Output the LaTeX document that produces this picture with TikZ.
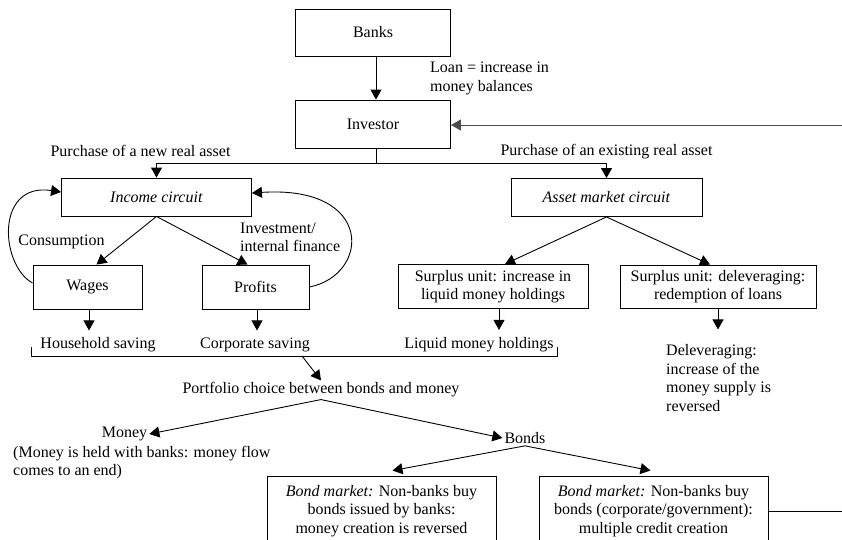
\documentclass[tikz,border=0pt]{standalone}
\usepackage{fontspec}
\setmainfont{Liberation Serif}
\usetikzlibrary{arrows.meta,calc}
\begin{document}
\begin{tikzpicture}[x=1pt,y=-1pt,
  every node/.style={font=\fontsize{16}{18.5}\selectfont},
  box/.style={draw, line width=0.9pt, inner sep=0pt, align=center},
  lbl/.style={inner sep=2pt, align=left},
  arr/.style={line width=0.9pt, -{Triangle[length=10pt,width=11pt]}},
  ln/.style={line width=0.9pt},
  feed/.style={draw=black!70}
]
\useasboundingbox (0,0) rectangle (842,539);

% boxes
\node[box, minimum width=155pt, minimum height=47pt] (banks) at (373,32.5) {Banks};
\node[box, minimum width=155pt, minimum height=48pt] (investor) at (373,124) {Investor};
\node[box, minimum width=190pt, minimum height=38pt] (income) at (156.5,197) {\textit{Income circuit}};
\node[box, minimum width=191pt, minimum height=38pt] (asset) at (606.5,197.5) {\textit{Asset market circuit}};
\node[box, minimum width=109pt, minimum height=44pt] (wages) at (87.5,287) {Wages};
\node[box, minimum width=107pt, minimum height=44pt] (profits) at (255.5,287) {Profits};
\node[box, minimum width=190pt, minimum height=44pt] (surplus1) at (493,286.5) {Surplus unit: increase in\\liquid money holdings};
\node[box, minimum width=196pt, minimum height=43pt] (surplus2) at (718,286.5) {Surplus unit: deleveraging:\\redemption of loans};
\node[box, minimum width=229pt, minimum height=70pt] (bond1) at (381.5,511) {\textit{Bond market:} Non-banks buy\\bonds issued by banks:\\money creation is reversed};
\node[box, minimum width=229pt, minimum height=70pt] (bond2) at (653.5,511) {\textit{Bond market:} Non-banks buy\\bonds (corporate/government):\\multiple credit creation};

% labels
\node[lbl, anchor=west] (loan) at (428,78.5) {Loan = increase in\\money balances};
\node[lbl] (pnew) at (140.5,151) {Purchase of a new real asset};
\node[lbl] (pexist) at (606.5,152) {Purchase of an existing real asset};
\node[lbl] (cons) at (61.5,242) {Consumption};
\node[lbl, anchor=west] (invest) at (238,237.5) {Investment/\\internal finance};
\node[lbl] (hsave) at (98,345) {Household saving};
\node[lbl] (csave) at (255,345) {Corporate saving};
\node[lbl] (liquid) at (479,345) {Liquid money holdings};
\node[lbl, anchor=west] (delev) at (664,378) {Deleveraging:\\increase of the\\money supply is\\reversed};
\node[lbl] (portfolio) at (321,390) {Portfolio choice between bonds and money};
\node[lbl] (money) at (124.5,434) {Money};
\node[lbl, anchor=west] (moneynote) at (11,462.5) {(Money is held with banks: money flow\\comes to an end)};
\node[lbl] (bonds) at (525,438) {Bonds};

% connectors
\coordinate (split) at (376,163);
\draw[arr] (banks.south -| split) -- (investor.north -| split);
\draw[ln] (investor.south -| split) -- (split);
\draw[arr] (split) -| (income.north);
\draw[arr] (split) -| (asset.north);
\coordinate (feedin) at (842,125);
\draw[arr, feed] (feedin) -- (investor.east |- feedin);

\draw[arr] (income.south) -- ([xshift=9pt]wages.north);
\draw[arr] (income.south) -- ([xshift=-8pt]profits.north);
\draw[arr] ([yshift=4pt]wages.west) .. controls (0,265) and (-5,182) .. ([yshift=5pt]income.west);
\draw[arr] (profits.east) .. controls (370,275) and (375,185) .. ([yshift=4pt]income.east);
\draw[arr] ([xshift=1.5pt]wages.south) -- ++(0,21);
\draw[arr] ([xshift=1.5pt]profits.south) -- ++(0,21);

\draw[arr] (asset.south) -- ([xshift=12pt]surplus1.north);
\draw[arr] (asset.south) -- ([xshift=-8pt]surplus2.north);
\draw[arr] ([xshift=6pt]surplus1.south) -- ++(0,21);
\draw[arr] (surplus2.south) -- ++(0,21);

\draw[ln] (31,347) -- (31,356) -- (557,356) -- (557,347);
\coordinate (brk) at (302,356);
\draw[arr] (brk) -- (portfolio.north);
\draw[arr] (portfolio.south) -- (money.east);
\draw[arr] (portfolio.south) -- (bonds.west);
\draw[arr] (bonds.south) -- ([xshift=11pt,yshift=5pt]bond1.north);
\draw[arr] (bonds.south) -- ([xshift=-3pt,yshift=5pt]bond2.north);
\coordinate (feedout) at (842,511);
\draw[ln] (bond2.east) -- (feedout);
\end{tikzpicture}
\end{document}
